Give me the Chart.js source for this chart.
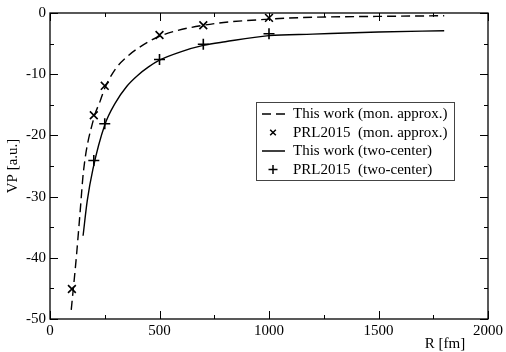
<!DOCTYPE html>
<html>
<head>
<meta charset="utf-8">
<script src="https://cdn.jsdelivr.net/npm/chart.js@4.4.4/dist/chart.umd.min.js"></script>
<style>
  html, body { margin: 0; padding: 0; background: #fff; }
  #wrap { width: 506px; height: 352px; position: relative; }
</style>
</head>
<body>
<div id="wrap"><canvas id="c"></canvas></div>
<script>
// ---- data ----
const monR   = [97, 120, 138, 153, 200, 229, 250, 300, 350, 400, 500, 700, 1000, 1200, 1500, 1800];
const monVP  = [-48.5, -40, -32.3, -25.8, -17.2, -14.4, -12.3, -9.1, -7.2, -5.8, -3.8, -2.0, -1.0, -0.7, -0.55, -0.45];
const prlMonR  = [100, 200, 250, 500, 700, 1000];
const prlMonVP = [-45.1, -16.7, -11.9, -3.6, -2.0, -0.8];
const twoR   = [151, 170, 196, 250, 300, 350, 400, 450, 500, 600, 700, 800, 1000, 1200, 1500, 1800];
const twoVP  = [-36.4, -30.7, -25.5, -18.3, -14.6, -12.0, -10.2, -8.8, -7.7, -6.3, -5.3, -4.7, -3.7, -3.45, -3.1, -2.9];
const prlTwoR  = [200, 250, 500, 700, 1000];
const prlTwoVP = [-24.1, -18.1, -7.6, -5.1, -3.4];

const xTicks = [0, 500, 1000, 1500, 2000];
const yTicks = [-50, -40, -30, -20, -10, 0];

const FONT = "'Liberation Serif', 'DejaVu Serif', serif";
const pts = (xs, ys) => xs.map((x, i) => ({ x, y: ys[i] }));

// frame with inward ticks on all four sides, legend box, x title
const framePlugin = {
  id: 'frame',
  afterDraw(chart) {
    const { ctx, chartArea: a, scales: { x, y } } = chart;
    ctx.save();
    ctx.strokeStyle = '#000';
    ctx.lineWidth = 1.3;
    ctx.strokeRect(a.left, a.top, a.right - a.left, a.bottom - a.top);
    ctx.lineWidth = 1;
    ctx.beginPath();
    for (let v = 0; v <= 2000; v += 250) {
      const px = Math.round(x.getPixelForValue(v)) + 0.5;
      const len = v % 500 === 0 ? 8 : 4;
      ctx.moveTo(px, a.bottom); ctx.lineTo(px, a.bottom - len);
      ctx.moveTo(px, a.top); ctx.lineTo(px, a.top + len);
    }
    for (let v = -50; v <= 0; v += 5) {
      const py = Math.round(y.getPixelForValue(v)) + 0.5;
      const len = v % 10 === 0 ? 8 : 4;
      ctx.moveTo(a.left, py); ctx.lineTo(a.left + len, py);
      ctx.moveTo(a.right, py); ctx.lineTo(a.right - len, py);
    }
    ctx.stroke();

    // x axis title
    ctx.fillStyle = '#000';
    ctx.font = '15px ' + FONT;
    ctx.textAlign = 'center';
    ctx.textBaseline = 'middle';
    ctx.fillText('R [fm]', 445, 344);

    // legend
    const bx = 256.5, by = 102.5, bw = 198, bh = 78;
    ctx.fillStyle = '#fff';
    ctx.fillRect(bx, by, bw, bh);
    ctx.strokeStyle = '#444';
    ctx.lineWidth = 1;
    ctx.strokeRect(bx, by, bw, bh);
    const rows = [114, 132.5, 151, 169.5];
    ctx.strokeStyle = '#000';
    chart.data.datasets.forEach((ds, i) => {
      const ry = rows[i];
      ctx.lineWidth = 1.5;
      if (ds.showLine) {
        ctx.setLineDash(ds.borderDash || []);
        ctx.beginPath(); ctx.moveTo(262, ry); ctx.lineTo(285, ry); ctx.stroke();
        ctx.setLineDash([]);
      } else {
        Chart.helpers.drawPoint(ctx, {
          pointStyle: ds.pointStyle, radius: ds.pointStyle === 'cross' ? 4.5 : 4,
          rotation: 0, borderWidth: 1.6
        }, 273, ry);
      }
      ctx.fillStyle = '#000';
      ctx.textAlign = 'left';
      ctx.fillText(ds.label, 293, ry + 0.5);
    });
    ctx.restore();
  }
};

new Chart(document.getElementById('c'), {
  type: 'scatter',
  data: {
    datasets: [
      { label: 'This work (mon. approx.)', data: pts(monR, monVP), showLine: true,
        borderColor: '#000', borderWidth: 1.4, borderDash: [9, 5], pointRadius: 0,
        cubicInterpolationMode: 'monotone' },
      { label: 'PRL2015  (mon. approx.)', data: pts(prlMonR, prlMonVP), showLine: false,
        pointStyle: 'crossRot', pointRadius: 5.5, borderColor: '#000', borderWidth: 1.6 },
      { label: 'This work (two-center)', data: pts(twoR, twoVP), showLine: true,
        borderColor: '#000', borderWidth: 1.4, pointRadius: 0,
        cubicInterpolationMode: 'monotone' },
      { label: 'PRL2015  (two-center)', data: pts(prlTwoR, prlTwoVP), showLine: false,
        pointStyle: 'cross', pointRadius: 5.5, borderColor: '#000', borderWidth: 1.6 }
    ]
  },
  options: {
    responsive: true, maintainAspectRatio: false, animation: false,
    layout: { padding: { left: 0, right: 16, top: 11, bottom: 0 } },
    plugins: { legend: { display: false }, tooltip: { enabled: false } },
    scales: {
      x: {
        type: 'linear', min: 0, max: 2000,
        afterBuildTicks: s => { s.ticks = xTicks.map(v => ({ value: v })); },
        afterFit: s => { s.height = 33; },
        ticks: { color: '#000', font: { family: FONT, size: 15 }, padding: 3, maxRotation: 0,
                 callback: v => String(v) },
        grid: { display: false, drawTicks: false },
        border: { display: false }
      },
      y: {
        type: 'linear', min: -50, max: 0,
        afterBuildTicks: s => { s.ticks = yTicks.map(v => ({ value: v })); },
        afterFit: s => { s.width = 50; },
        ticks: { color: '#000', font: { family: FONT, size: 15 }, padding: 4,
                 callback: v => String(v) },
        grid: { display: false, drawTicks: false },
        border: { display: false },
        title: { display: true, text: 'VP [a.u.]', color: '#000',
                 font: { family: FONT, size: 15 }, padding: { top: 4, bottom: 0 } }
      }
    }
  },
  plugins: [framePlugin]
});
</script>
</body>
</html>
